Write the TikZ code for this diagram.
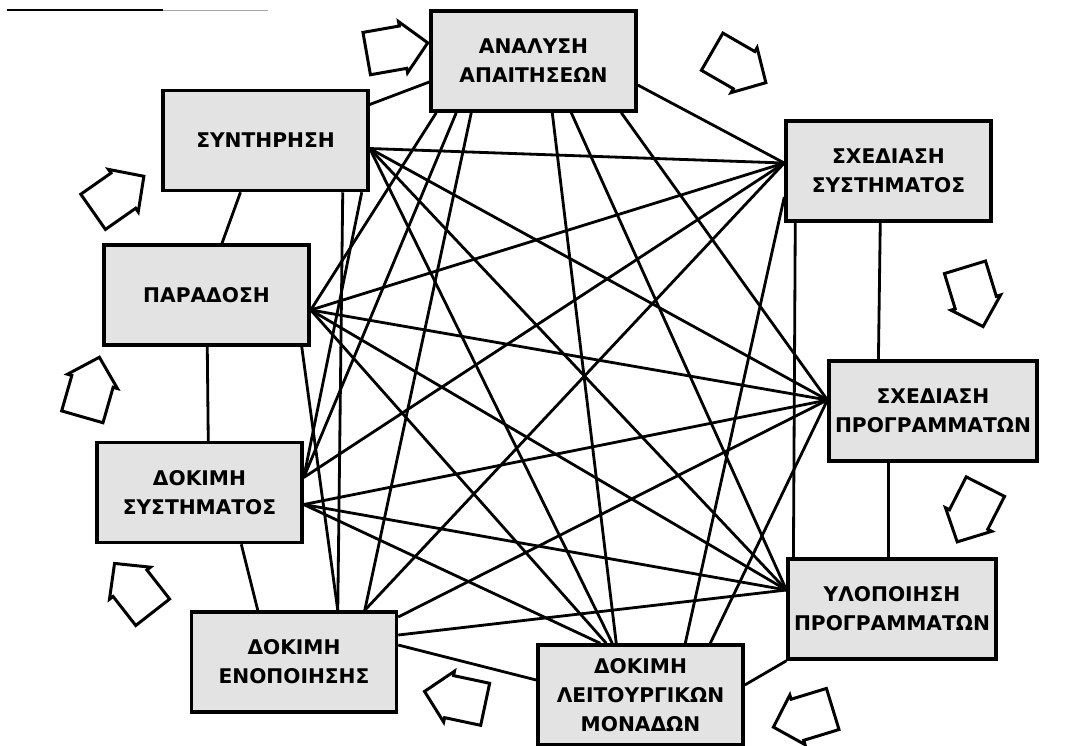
\documentclass[tikz,border=0pt]{standalone}
\usepackage{fontspec}
\newfontfamily\phasefont{DejaVu Sans}
\usepackage{tikz}
\usetikzlibrary{calc, shapes.arrows}
\pgfdeclarelayer{background}
\pgfsetlayers{background,main}
\tikzstyle{phase} = [rectangle, minimum width=4.1cm, minimum height=2.0cm, align=center, draw=black, line width=2pt, fill=black!11, font=\phasefont\bfseries\fontsize{11.5}{16.5}\selectfont]
\tikzstyle{link}  = [line width=1.6pt]
\tikzstyle{turn}  = [single arrow, draw=black, fill=white, line width=1.7pt, minimum height=1.24cm, inner xsep=0pt, inner ysep=0.4cm, single arrow head extend=0.09cm, single arrow tip angle=92]

\begin{document}
\begin{tikzpicture}[x=0.02cm, y=-0.02cm]
  \useasboundingbox (0,0) rectangle (1081,745);

  % rule over the figure
  \draw [line width=1.5pt] (7,10) -- (163,10);
  \draw [black!35, line width=0.5pt] (163,10) -- (268,10);

  % phases
  \node (ana) [phase] at (533.5,61)   {ΑΝΑΛΥΣΗ\\ΑΠΑΙΤΗΣΕΩΝ};
  \node (syn) [phase] at (265.5,140.5) {ΣΥΝΤΗΡΗΣΗ};
  \node (sxs) [phase] at (888.5,171)  {ΣΧΕΔΙΑΣΗ\\ΣΥΣΤΗΜΑΤΟΣ};
  \node (par) [phase] at (206.5,295)  {ΠΑΡΑΔΟΣΗ};
  \node (dks) [phase] at (199.5,492.5) {ΔΟΚΙΜΗ\\ΣΥΣΤΗΜΑΤΟΣ};
  \node (sxp) [phase] at (933,411)    {ΣΧΕΔΙΑΣΗ\\ΠΡΟΓΡΑΜΜΑΤΩΝ};
  \node (ylo) [phase] at (892,609)    {ΥΛΟΠΟΙΗΣΗ\\ΠΡΟΓΡΑΜΜΑΤΩΝ};
  \node (den) [phase] at (294,662)    {ΔΟΚΙΜΗ\\ΕΝΟΠΟΙΗΣΗΣ};
  \node (dlm) [phase] at (640.5,695)  {ΔΟΚΙΜΗ\\ΛΕΙΤΟΥΡΓΙΚΩΝ\\ΜΟΝΑΔΩΝ};

  % where the lines meet the boxes
  \coordinate (ana-p) at ($(ana.south west)+(7,0)$);
  \coordinate (ana-t) at ($(ana.south west)+(27,0)$);
  \coordinate (ana-e) at ($(ana.south west)+(42,0)$);
  \coordinate (ana-l) at ($(ana.south west)+(123,0)$);
  \coordinate (ana-u) at ($(ana.south west)+(142,0)$);
  \coordinate (ana-g) at ($(ana.south west)+(192,0)$);
  \coordinate (ana-w) at ($(ana.west)+(0,21)$);
  \coordinate (ana-x) at ($(ana.east)+(0,24)$);

  \coordinate (syn-r)  at ($(syn.east)+(0,8)$);
  \coordinate (syn-n)  at ($(syn.east)+(0,-36)$);
  \coordinate (syn-b1) at ($(syn.south east)+(-27,0)$);
  \coordinate (syn-b2) at ($(syn.south east)+(-8,0)$);
  \coordinate (syn-s)  at ($(syn.south)+(-25,0)$);

  \coordinate (sxs-l)  at ($(sxs.west)+(0,-8)$);
  \coordinate (sxs-l2) at ($(sxs.west)+(0,26)$);
  \coordinate (sxs-b1) at ($(sxs.south west)+(11,0)$);
  \coordinate (sxs-b2) at ($(sxs.south west)+(96,0)$);

  \coordinate (par-r) at ($(par.east)+(0,15)$);
  \coordinate (par-n) at ($(par.north)+(15.5,0)$);
  \coordinate (par-b) at ($(par.south west)+(105,0)$);
  \coordinate (par-c) at ($(par.south east)+(-9,0)$);

  \coordinate (dks-r1) at ($(dks.east)+(0,-15)$);
  \coordinate (dks-r2) at ($(dks.east)+(0,12)$);
  \coordinate (dks-n)  at ($(dks.north west)+(113,0)$);
  \coordinate (dks-s)  at ($(dks.south west)+(146,0)$);

  \coordinate (sxp-l) at ($(sxp.west)+(0,-11)$);
  \coordinate (sxp-n) at ($(sxp.north west)+(51,0)$);
  \coordinate (sxp-s) at ($(sxp.south west)+(61,0)$);

  \coordinate (ylo-l)  at ($(ylo.west)+(0,-19)$);
  \coordinate (ylo-n1) at ($(ylo.north west)+(7,0)$);
  \coordinate (ylo-n2) at ($(ylo.north west)+(102,0)$);

  \coordinate (den-t1) at ($(den.north west)+(148,0)$);
  \coordinate (den-t2) at ($(den.north west)+(175,0)$);
  \coordinate (den-r1) at ($(den.east)+(0,-45)$);
  \coordinate (den-r2) at ($(den.east)+(0,-27)$);
  \coordinate (den-r3) at ($(den.east)+(0,-17)$);
  \coordinate (den-n)  at ($(den.north west)+(68,0)$);

  \coordinate (dlm-t1) at ($(dlm.north west)+(64,0)$);
  \coordinate (dlm-t2) at ($(dlm.north west)+(70,0)$);
  \coordinate (dlm-t3) at ($(dlm.north west)+(76,0)$);
  \coordinate (dlm-t4) at ($(dlm.north west)+(80,0)$);
  \coordinate (dlm-d)  at ($(dlm.north west)+(149,0)$);
  \coordinate (dlm-g)  at ($(dlm.north west)+(174,0)$);
  \coordinate (dlm-w)  at ($(dlm.west)+(0,-15)$);
  \coordinate (dlm-e)  at ($(dlm.east)+(0,-10)$);

  \begin{pgfonlayer}{background}
    % neighbours
    \draw [link] (syn-n) -- (ana-w);
    \draw [link] (ana-x) -- (sxs-l);
    \draw [link] (sxs-b2) -- (sxp-n);
    \draw [link] (sxp-s) -- (ylo-n2);
    \draw [link] (ylo.south west) -- (dlm-e);
    \draw [link] (dlm-w) -- (den-r3);
    \draw [link] (den-n) -- (dks-s);
    \draw [link] (dks-n) -- (par-b);
    \draw [link] (par-n) -- (syn-s);

    % every other pair
    \draw [link] (ana-p) -- (par-r);
    \draw [link] (ana-t) -- (dks-r1);
    \draw [link] (ana-e) -- (den-t2);
    \draw [link] (ana-l) -- (dlm-t4);
    \draw [link] (ana-u) -- (ylo-l);
    \draw [link] (ana-g) -- (sxp-l);

    \draw [link] (syn-r) -- (sxs-l);
    \draw [link] (syn-r) -- (sxp-l);
    \draw [link] (syn-r) -- (ylo-l);
    \draw [link] (syn-r) -- (dlm-t3);
    \draw [link] (syn-b1) -- (den-t1);
    \draw [link] (syn-b2) -- (dks-r1);

    \draw [link] (sxs-l) -- (par-r);
    \draw [link] (sxs-l) -- (dks-r1);
    \draw [link] (sxs-l) -- (den-t2);
    \draw [link] (sxs-l2) -- (dlm-d);
    \draw [link] (sxs-b1) -- (ylo-n1);

    \draw [link] (sxp-l) -- (par-r);
    \draw [link] (sxp-l) -- (dks-r2);
    \draw [link] (sxp-l) -- (den-r1);
    \draw [link] (sxp-l) -- (dlm-g);

    \draw [link] (ylo-l) -- (par-r);
    \draw [link] (ylo-l) -- (dks-r2);
    \draw [link] (ylo-l) -- (den-r2);

    \draw [link] (dlm-t2) -- (par-r);
    \draw [link] (dlm-t1) -- (dks-r2);

    \draw [link] (den-t1) -- (par-c);
  \end{pgfonlayer}

  % the cycle
  \node (tr1) [turn, rotate=10]   at (387,50)  {};
  \node (tr2) [turn, rotate=-30]  at (730,62)  {};
  \node (tr3) [turn, rotate=-73]  at (971,287) {};
  \node (tr4) [turn, rotate=-117] at (976,505) {};
  \node (tr5) [turn, rotate=-163] at (813,715) {};
  \node (tr6) [turn, rotate=168]  at (465,700) {};
  \node (tr7) [turn, rotate=128]  at (140,596) {};
  \node (tr8) [turn, rotate=74]   at (88,397)  {};
  \node (tr9) [turn, rotate=35]   at (110,200) {};

\end{tikzpicture}
\end{document}
